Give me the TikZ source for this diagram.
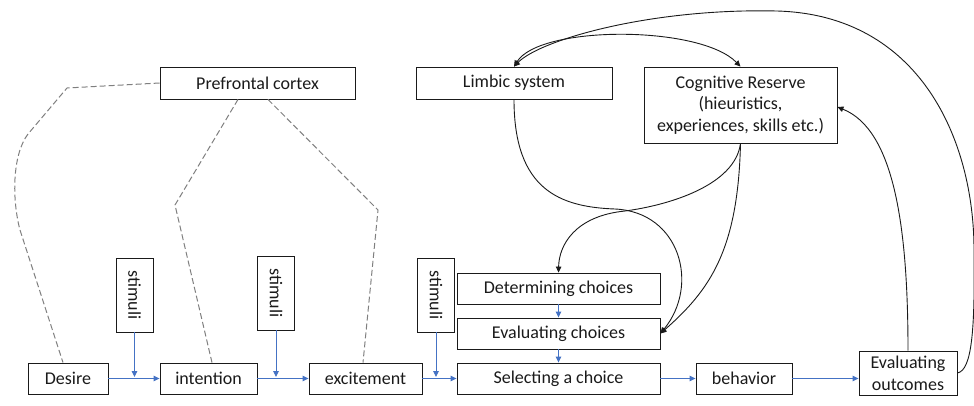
\documentclass[tikz,border=0pt]{standalone}
\usepackage{fontspec}
\usepackage{graphicx}
\setmainfont{Carlito}
\usetikzlibrary{arrows.meta}
\definecolor{flowblue}{HTML}{4472C4}
\definecolor{dashgray}{HTML}{7F7F7F}
\definecolor{inkc}{HTML}{1A1A1A}
\begin{document}
\begin{tikzpicture}[x=1pt,y=-1pt,
  box/.style={draw=inkc,line width=0.9pt,inner sep=0pt,align=center,text=inkc,
              font=\fontsize{18}{21.7}\selectfont},
  stimbox/.style={box,minimum width=37pt,minimum height=74pt},
  flow/.style={draw=flowblue,line width=0.9pt,-{Triangle[length=6pt,width=5.5pt]}},
  link/.style={draw=inkc,line width=0.9pt,-{Triangle[length=6pt,width=5.5pt]}},
  brain/.style={draw=dashgray,line width=1pt,dash pattern=on 6pt off 3pt}]
\useasboundingbox (0,0) rectangle (974,405);

% upper boxes
\node[box,minimum width=195pt,minimum height=32pt] (pf) at (257.5,83) {Prefrontal cortex};
\node[box,minimum width=196pt,minimum height=32pt] (limbic) at (514,83) {Limbic system};
\node[box,minimum width=193pt,minimum height=76pt] (cr) at (740.5,105) {Cognitive Reserve\\(hieuristics,\\experiences, skills etc.)};

% main row
\node[box,minimum width=80pt,minimum height=31pt] (desire) at (68,378.5) {Desire};
\node[box,minimum width=97pt,minimum height=31pt] (intention) at (208.5,378.5) {intention};
\node[box,minimum width=113pt,minimum height=31pt] (excitement) at (365.5,378.5) {excitement};
\node[box,minimum width=203pt,minimum height=31pt] (sel) at (558.5,378.5) {Selecting a choice};
\node[box,minimum width=96pt,minimum height=31pt] (beh) at (744,378.5) {behavior};
\node[box,minimum width=98pt,minimum height=44pt] (eo) at (908,373) {Evaluating\\outcomes};

% choice stack
\node[box,minimum width=203pt,minimum height=31pt] (det) at (558.5,288.5) {Determining choices};
\node[box,minimum width=203pt,minimum height=31pt] (evc) at (558.5,333.5) {Evaluating choices};

% stimuli
\node[stimbox] (st1) at (134.5,295) {\rotatebox{-90}{stimuli}};
\node[stimbox] (st2) at (276,293) {\rotatebox{-90}{stimuli}};
\node[stimbox] (st3) at (436,295) {\rotatebox{-90}{stimuli}};

% blue flow arrows
\draw[flow] (desire.east) -- (intention.west);
\draw[flow] (intention.east) -- (excitement.west);
\draw[flow] (excitement.east) -- (sel.west);
\draw[flow] (sel.east) -- (beh.west);
\draw[flow] (beh.east) -- (beh.east -| eo.west);
\draw[flow,shorten >=1.5pt] (st1.south) -- (st1.south |- desire.east);
\draw[flow,shorten >=1.5pt] (st2.south) -- (st2.south |- desire.east);
\draw[flow,shorten >=1.5pt] (st3.south) -- (st3.south |- desire.east);
\draw[flow] (det.south) -- (evc.north);
\draw[flow] (evc.south) -- (sel.north);

% dashed links from prefrontal cortex
\draw[brain] (pf.west) -- (67,88) -- (28,134) .. controls (12,155) and (12,200) .. (20,230) -- ([xshift=-5pt]desire.north);
\draw[brain] ([xshift=-19.5pt]pf.south) -- (175,205) -- ([xshift=3.5pt]intention.north);
\draw[brain] ([xshift=10.5pt]pf.south) -- (378,210) -- ([xshift=-2.5pt]excitement.north);

% black connectors
\draw[link] (eo.east) .. controls (972,370) and (975,330) .. (974,250)
            .. controls (974,140) and (920,15) .. (777,11)
            .. controls (650,8) and (540,40) .. (limbic.north);
\draw[link,{Triangle[length=6pt,width=5.5pt]}-{Triangle[length=6pt,width=5.5pt]}]
      (limbic.north) .. controls (540,25) and (700,25) .. (cr.north);
\draw[link] (limbic.south) .. controls (514,190) and (560,207) .. (615,209)
            .. controls (680,212) and (700,285) .. (evc.east);
\draw[link] (cr.south) .. controls (735,185) and (670,205) .. (625,211)
            .. controls (575,216) and (559,245) .. (det.north);
\draw[link] (cr.south) .. controls (738,250) and (710,290) .. (evc.east);
\draw[link] (eo.north) .. controls (908,230) and (895,130) .. ([yshift=-2pt]cr.east);
\end{tikzpicture}
\end{document}
